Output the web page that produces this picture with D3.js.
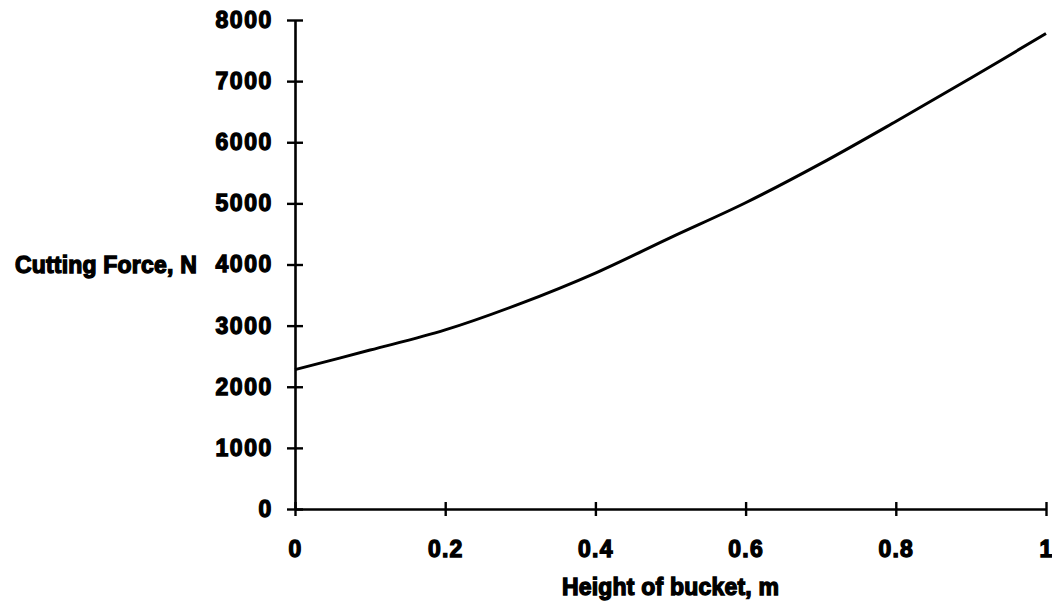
<!DOCTYPE html>
<html>
<head>
<meta charset="utf-8">
<script src="https://cdn.jsdelivr.net/npm/d3@7"></script>
<style>
  html, body { margin: 0; padding: 0; background: #fff; }
  svg text { font-family: "Liberation Sans", Arial, sans-serif; font-weight: bold; fill: #000; }
</style>
</head>
<body>
<svg id="chart" width="1052" height="606"></svg>
<script>
// Data
const heights = [0, 0.1, 0.2, 0.3, 0.4, 0.5, 0.6, 0.7, 0.8, 0.9, 1.0];
const cuttingForce = [2280, 2600, 2930, 3360, 3860, 4440, 5010, 5650, 6340, 7050, 7780];
const xTicks = [0, 0.2, 0.4, 0.6, 0.8, 1];
const xTickLabels = ["0", "0.2", "0.4", "0.6", "0.8", "1"];
const yTicks = [0, 1000, 2000, 3000, 4000, 5000, 6000, 7000, 8000];
const xTitle = "Height of bucket, m";
const yTitle = "Cutting Force, N";

const svg = d3.select("#chart");
const x = d3.scaleLinear().domain([0, 1]).range([295, 1046]);
const y = d3.scaleLinear().domain([0, 8000]).range([509, 20]);

const fontSize = 23;
const strokeW = 1.3;

// Y axis
const yAxis = svg.append("g").attr("transform", `translate(${x(0)},0)`)
  .call(d3.axisLeft(y).tickValues(yTicks).tickSize(0).tickPadding(22).tickFormat(d3.format("d")));
yAxis.select(".domain").attr("stroke", "#000").attr("stroke-width", 2.6);
yAxis.selectAll(".tick line").attr("x1", -8).attr("x2", 8).attr("stroke", "#000").attr("stroke-width", 2.4);
yAxis.selectAll(".tick text")
  .style("font-size", fontSize + "px").style("letter-spacing", "1.6px")
  .attr("stroke", "#000").attr("stroke-width", strokeW);

// X axis
const xAxis = svg.append("g").attr("transform", `translate(0,${y(0)})`)
  .call(d3.axisBottom(x).tickValues(xTicks).tickSize(0).tickPadding(32)
    .tickFormat((d, i) => xTickLabels[i]));
xAxis.select(".domain").attr("stroke", "#000").attr("stroke-width", 2.6);
xAxis.selectAll(".tick line").attr("y1", -7).attr("y2", 7).attr("stroke", "#000").attr("stroke-width", 2.4);
xAxis.selectAll(".tick text")
  .style("font-size", fontSize + "px").style("letter-spacing", "1.2px")
  .attr("stroke", "#000").attr("stroke-width", strokeW);

// Curve
const line = d3.line().x((d, i) => x(heights[i])).y(d => y(d)).curve(d3.curveCatmullRom);
svg.append("path").datum(cuttingForce)
  .attr("d", line).attr("fill", "none").attr("stroke", "#000").attr("stroke-width", 3);

// Titles
svg.append("text").attr("x", 197).attr("y", y(4000)).attr("dy", "0.36em")
  .attr("text-anchor", "end")
  .style("font-size", fontSize + "px").style("letter-spacing", "0.2px")
  .attr("stroke", "#000").attr("stroke-width", strokeW)
  .text(yTitle);

svg.append("text").attr("x", (x(0) + x(1)) / 2).attr("y", 595)
  .attr("text-anchor", "middle")
  .style("font-size", fontSize + "px").style("letter-spacing", "0.2px")
  .attr("stroke", "#000").attr("stroke-width", strokeW)
  .text(xTitle);
</script>
</body>
</html>
